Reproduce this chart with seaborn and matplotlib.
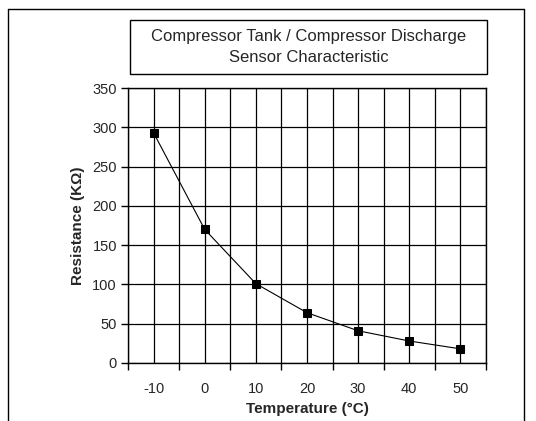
import matplotlib
matplotlib.use("Agg")
import matplotlib.pyplot as plt
from matplotlib.patches import Rectangle
from matplotlib.lines import Line2D
import numpy as np
import pandas as pd
import seaborn as sns

temperature = [-10, 0, 10, 20, 30, 40, 50]
resistance = [293, 170, 101, 64, 41, 28, 18]
y_ticks = [0, 50, 100, 150, 200, 250, 300, 350]

df = pd.DataFrame({"Temperature": temperature, "Resistance": resistance})

sns.set_style("white")
plt.rcParams["font.family"] = ["Liberation Sans", "DejaVu Sans"]

fig = plt.figure(figsize=(5.36, 4.21), dpi=100)
ax = fig.add_axes([128 / 536, 58 / 421, 358 / 536, 275 / 421])

sns.lineplot(data=df, x="Temperature", y="Resistance", ax=ax, color="black",
             linewidth=0.8, marker="s", markersize=6, markeredgecolor="black",
             markerfacecolor="black")

ax.set_xlim(-15, 55)
ax.set_ylim(0, 350)
ax.set_xticks(temperature)
ax.set_xticks(np.arange(-15, 56, 10), minor=True)
ax.set_yticks(y_ticks)
ax.set_xticklabels([str(t) for t in temperature], fontsize=10.5)
ax.set_yticklabels([str(t) for t in y_ticks], fontsize=10.5)
ax.tick_params(which="both", top=False, right=False)
ax.tick_params(axis="x", which="major", length=0, pad=14)
ax.tick_params(axis="x", which="minor", length=5, width=1, color="black", direction="out", bottom=True)
ax.tick_params(axis="y", which="major", length=5, width=1, color="black", direction="out", left=True, pad=3)
ax.grid(True, which="both", axis="x", color="black", linewidth=0.9)
ax.grid(True, which="major", axis="y", color="black", linewidth=0.9)
ax.set_axisbelow(True)
for s in ax.spines.values():
    s.set_color("black")
    s.set_linewidth(1)
    s.set_visible(True)

ax.set_xlabel("Temperature (°C)", fontsize=11, fontweight="bold", labelpad=4)
ax.set_ylabel("Resistance (KΩ)", fontsize=11, fontweight="bold", labelpad=5)

# outer frame (open at bottom)
fig.add_artist(Line2D([8 / 536, 8 / 536], [0, 1 - 9 / 421], color="black", lw=1))
fig.add_artist(Line2D([8 / 536, 524 / 536], [1 - 9 / 421, 1 - 9 / 421], color="black", lw=1))
fig.add_artist(Line2D([524 / 536, 524 / 536], [0, 1 - 9 / 421], color="black", lw=1))

# title box
fig.add_artist(Rectangle((130 / 536, 1 - 74 / 421), 357 / 536, 54 / 421,
                         transform=fig.transFigure, fill=False, edgecolor="black", lw=1))
fig.text(308.5 / 536, 1 - 47 / 421, "Compressor Tank / Compressor Discharge\nSensor Characteristic",
         ha="center", va="center", fontsize=12, linespacing=1.5)

fig.savefig("out.png", dpi=100)
